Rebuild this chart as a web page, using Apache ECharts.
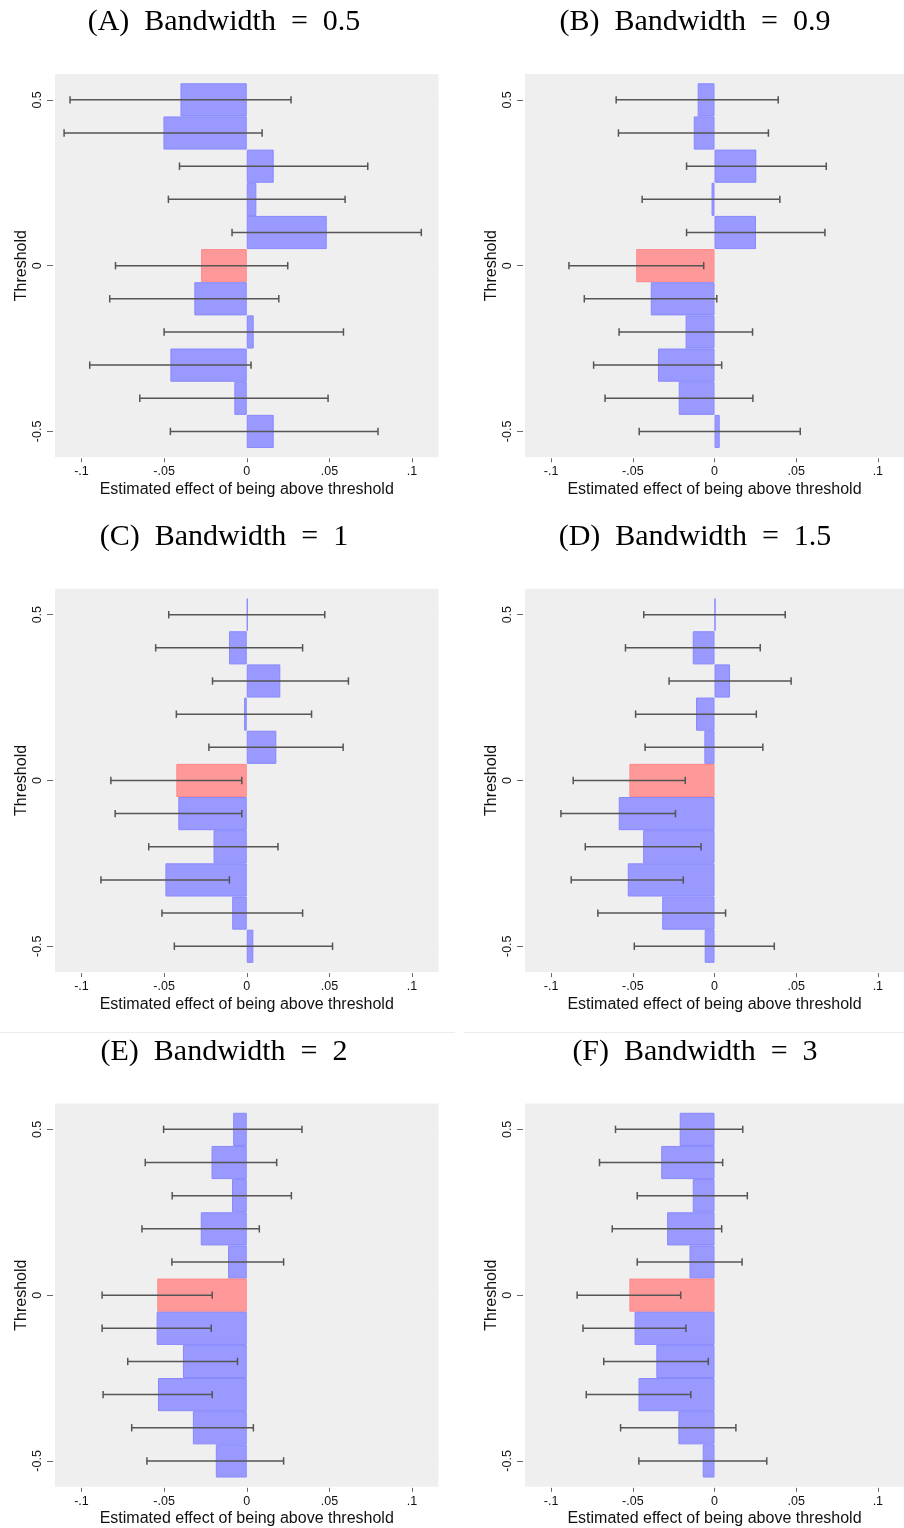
<!DOCTYPE html>
<html>
<head>
<meta charset="utf-8">
<title>Estimated effect of being above threshold</title>
<script src="https://cdn.jsdelivr.net/npm/echarts@6/dist/echarts.min.js"></script>
<style>
  html, body { margin: 0; padding: 0; background: #ffffff; }
  #chart { width: 904px; height: 1528px; }
</style>
</head>
<body>
<div id="chart"></div>
<script>
// Thresholds (one bar per threshold, bars are 0.1 tall)
const thresholds = [0.5, 0.4, 0.3, 0.2, 0.1, 0, -0.1, -0.2, -0.3, -0.4, -0.5];
const focalThreshold = 0;

// Axis ticks and labels
const xTicks = [-0.1, -0.05, 0, 0.05, 0.1];
const xTickLabels = ['-.1', '-.05', '0', '.05', '.1'];
const yTicks = [-0.5, 0, 0.5];
const yTickLabels = ['-0.5', '0', '0.5'];

const panelTitles = [
  '(A) Bandwidth = 0.5', '(B) Bandwidth = 0.9',
  '(C) Bandwidth = 1',   '(D) Bandwidth = 1.5',
  '(E) Bandwidth = 2',   '(F) Bandwidth = 3'
];

// Point estimates and 95% confidence bounds, in threshold order
const estA = [-0.0401, -0.0504, 0.0163, 0.0058, 0.0484, -0.0276, -0.0317, 0.0042, -0.0462, -0.0075, 0.0163];
const loA  = [-0.1069, -0.1105, -0.0407, -0.0474, -0.0089, -0.0794, -0.0829, -0.0500, -0.0950, -0.0647, -0.0462];
const hiA  = [0.0268, 0.0093, 0.0732, 0.0595, 0.1056, 0.0248, 0.0194, 0.0585, 0.0026, 0.0492, 0.0794];

const estB = [-0.0103, -0.0127, 0.0256, -0.0018, 0.0254, -0.0479, -0.0390, -0.0177, -0.0346, -0.0219, 0.0032];
const loB  = [-0.0602, -0.0588, -0.0171, -0.0443, -0.0171, -0.0891, -0.0797, -0.0584, -0.0740, -0.0670, -0.0461];
const hiB  = [0.0390, 0.0330, 0.0684, 0.0400, 0.0676, -0.0066, 0.0014, 0.0233, 0.0044, 0.0235, 0.0525];

const estC = [0.0003, -0.0107, 0.0203, -0.0016, 0.0179, -0.0426, -0.0414, -0.0201, -0.0492, -0.0088, 0.0040];
const loC  = [-0.0472, -0.0551, -0.0207, -0.0426, -0.0229, -0.0822, -0.0796, -0.0593, -0.0882, -0.0513, -0.0438];
const hiC  = [0.0472, 0.0338, 0.0615, 0.0392, 0.0583, -0.0030, -0.0030, 0.0189, -0.0105, 0.0338, 0.0519];

const estD = [0.0002, -0.0133, 0.0095, -0.0113, -0.0062, -0.0521, -0.0586, -0.0437, -0.0531, -0.0320, -0.0060];
const loD  = [-0.0433, -0.0545, -0.0278, -0.0483, -0.0425, -0.0865, -0.0940, -0.0791, -0.0877, -0.0714, -0.0491];
const hiD  = [0.0433, 0.0280, 0.0469, 0.0256, 0.0296, -0.0179, -0.0239, -0.0082, -0.0191, 0.0068, 0.0366];

const estE = [-0.0082, -0.0213, -0.0089, -0.0278, -0.0113, -0.0541, -0.0545, -0.0386, -0.0537, -0.0326, -0.0187];
const loE  = [-0.0503, -0.0614, -0.0451, -0.0634, -0.0453, -0.0875, -0.0875, -0.0720, -0.0869, -0.0696, -0.0604];
const hiE  = [0.0334, 0.0181, 0.0270, 0.0076, 0.0223, -0.0209, -0.0215, -0.0056, -0.0209, 0.0040, 0.0223];

const estF = [-0.0213, -0.0326, -0.0133, -0.0290, -0.0153, -0.0521, -0.0489, -0.0356, -0.0465, -0.0221, -0.0072];
const loF  = [-0.0606, -0.0704, -0.0473, -0.0626, -0.0473, -0.0841, -0.0805, -0.0678, -0.0785, -0.0575, -0.0463];
const hiF  = [0.0173, 0.0050, 0.0201, 0.0044, 0.0169, -0.0207, -0.0175, -0.0038, -0.0145, 0.0131, 0.0320];

const panels = [
  { est: estA, lo: loA, hi: hiA },
  { est: estB, lo: loB, hi: hiB },
  { est: estC, lo: loC, hi: hiC },
  { est: estD, lo: loD, hi: hiD },
  { est: estE, lo: loE, hi: hiE },
  { est: estF, lo: loF, hi: hiF }
];

// Page layout
const colLeft = [55, 525];
const colTitleX = [224, 695];
const rowTop = [74, 588.8, 1103.5];
const rowTitleY = [22.5, 537.3, 1052];
const gridW = 383.5;
const gridH = 383.3;
const X_RANGE = 0.116;
const Y_RANGE = 0.578;
const BAR_HALF = 0.05;

const COLORS = {
  plotBg: '#efefef',
  barFill: '#9999ff', barStroke: '#8888ff',
  focalFill: '#ff9999', focalStroke: '#ff8888',
  whisker: '#555555',
  tick: '#666666',
  text: '#111111',
  gridLine: '#e9efef'
};
const SANS = '"Liberation Sans", Arial, sans-serif';

function labelFor(ticks, labels, v) {
  for (let i = 0; i < ticks.length; i++) {
    if (Math.abs(ticks[i] - v) < 1e-9) return labels[i];
  }
  return '';
}

const grids = [], xAxes = [], yAxes = [], series = [], graphics = [];

panels.forEach(function (p, k) {
  const row = Math.floor(k / 2), col = k % 2;
  grids.push({
    left: colLeft[col], top: rowTop[row], width: gridW, height: gridH,
    show: true, backgroundColor: COLORS.plotBg, borderWidth: 0
  });
  xAxes.push({
    type: 'value', gridIndex: k, position: 'bottom', min: -X_RANGE, max: X_RANGE, offset: 1,
    axisLine: { show: false, onZero: false },
    axisTick: { show: true, customValues: xTicks, length: 4, lineStyle: { color: COLORS.tick, width: 1 } },
    axisLabel: {
      customValues: xTicks, margin: 7, fontSize: 12.5, color: COLORS.text, fontFamily: SANS,
      formatter: function (v) { return labelFor(xTicks, xTickLabels, v); }
    },
    splitLine: { show: false },
    name: 'Estimated effect of being above threshold',
    nameLocation: 'middle', nameGap: 23,
    nameTextStyle: { fontSize: 16, color: COLORS.text, fontFamily: SANS }
  });
  yAxes.push({
    type: 'value', gridIndex: k, position: 'left', min: -Y_RANGE, max: Y_RANGE, offset: 2,
    axisLine: { show: false, onZero: false },
    axisTick: { show: true, customValues: yTicks, length: 6, lineStyle: { color: COLORS.tick, width: 1 } },
    axisLabel: {
      customValues: yTicks, rotate: 90, margin: 9, fontSize: 12.5, color: COLORS.text, fontFamily: SANS,
      formatter: function (v) { return labelFor(yTicks, yTickLabels, v); }
    },
    splitLine: { show: false },
    name: 'Threshold', nameLocation: 'middle', nameGap: 23,
    nameTextStyle: { fontSize: 16, color: COLORS.text, fontFamily: SANS }
  });

  // faint reference lines at the labelled thresholds
  series.push({
    type: 'custom', xAxisIndex: k, yAxisIndex: k, silent: true, z: 1,
    data: yTicks.map(function (t) { return [t]; }),
    renderItem: function (params, api) {
      const a = api.coord([-X_RANGE, api.value(0)]);
      const b = api.coord([X_RANGE, api.value(0)]);
      return { type: 'line', shape: { x1: a[0], y1: a[1], x2: b[0], y2: b[1] },
               style: { stroke: COLORS.gridLine, lineWidth: 1 } };
    }
  });

  // bars from zero to the estimate, one per threshold
  series.push({
    type: 'custom', xAxisIndex: k, yAxisIndex: k, silent: true, z: 2,
    encode: { x: 0, y: 1 },
    data: thresholds.map(function (t, i) { return [p.est[i], t]; }),
    renderItem: function (params, api) {
      const v = api.value(0), t = api.value(1);
      const p1 = api.coord([0, t + BAR_HALF]);
      const p2 = api.coord([v, t - BAR_HALF]);
      const focal = Math.abs(t - focalThreshold) < 1e-9;
      return {
        type: 'rect',
        shape: { x: Math.min(p1[0], p2[0]) + 0.5, y: p1[1] + 0.5,
                 width: Math.max(Math.abs(p2[0] - p1[0]) - 1, 0), height: p2[1] - p1[1] - 1 },
        style: { fill: focal ? COLORS.focalFill : COLORS.barFill,
                 stroke: focal ? COLORS.focalStroke : COLORS.barStroke, lineWidth: 1 }
      };
    }
  });

  // confidence intervals with end caps
  series.push({
    type: 'custom', xAxisIndex: k, yAxisIndex: k, silent: true, z: 3,
    encode: { x: [0, 1], y: 2 },
    data: thresholds.map(function (t, i) { return [p.lo[i], p.hi[i], t]; }),
    renderItem: function (params, api) {
      const a = api.coord([api.value(0), api.value(2)]);
      const b = api.coord([api.value(1), api.value(2)]);
      const cap = 3.7;
      const st = { stroke: COLORS.whisker, lineWidth: 1.5 };
      return {
        type: 'group',
        children: [
          { type: 'line', shape: { x1: a[0], y1: a[1], x2: b[0], y2: b[1] }, style: st },
          { type: 'line', shape: { x1: a[0], y1: a[1] - cap, x2: a[0], y2: a[1] + cap }, style: st },
          { type: 'line', shape: { x1: b[0], y1: b[1] - cap, x2: b[0], y2: b[1] + cap }, style: st }
        ]
      };
    }
  });

  graphics.push({
    type: 'text', x: colTitleX[col], y: rowTitleY[row], silent: true,
    style: {
      text: panelTitles[k].replace(') ', ')  ').replace(' = ', '  =  '),
      font: '30px "Liberation Serif", "Times New Roman", serif',
      fill: '#000000', align: 'center', verticalAlign: 'middle'
    }
  });
});

// thin rules separating the last row of panels
graphics.push({ type: 'line', silent: true, shape: { x1: 0, y1: 1032.5, x2: 455, y2: 1032.5 },
                style: { stroke: '#e8eeee', lineWidth: 1 } });
graphics.push({ type: 'line', silent: true, shape: { x1: 464, y1: 1032.5, x2: 904, y2: 1032.5 },
                style: { stroke: '#e8eeee', lineWidth: 1 } });

const chart = echarts.init(document.getElementById('chart'), null, { renderer: 'canvas', width: 904, height: 1528 });
chart.setOption({
  animation: false,
  backgroundColor: '#ffffff',
  grid: grids,
  xAxis: xAxes,
  yAxis: yAxes,
  series: series,
  graphic: graphics
});
</script>
</body>
</html>
